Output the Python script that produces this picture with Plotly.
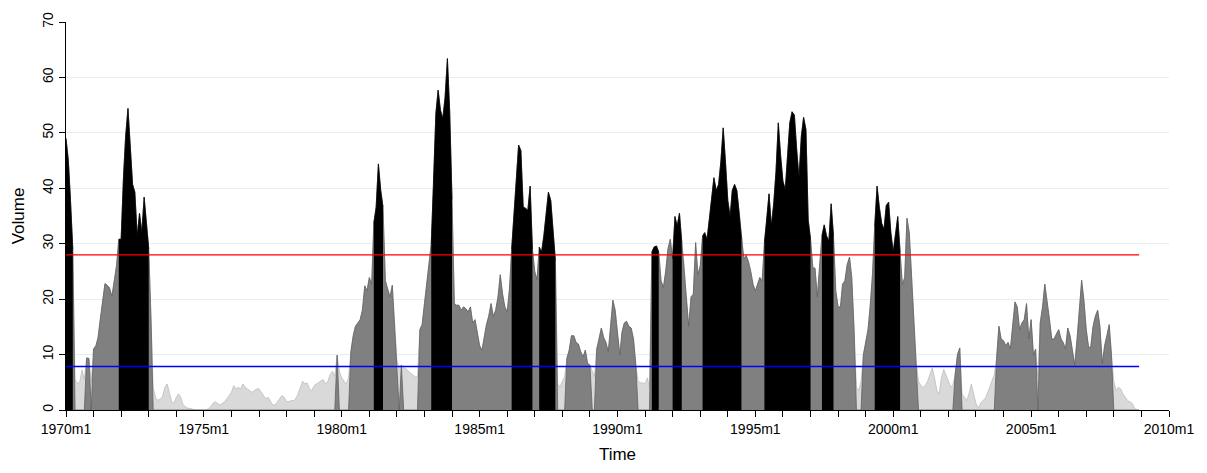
import pandas as pd
import plotly.graph_objects as go

# Monthly trading volume, 1970m1 - 2008m12, one list per decade
vol_1970s = [
    49, 45, 38, 29, 5.5, 4.8, 5.0, 7.2, 5.5, 9.4,
    9.3, 5.0, 11, 11.6, 13, 16.5, 19.5, 22.8, 22.5, 22,
    20.5, 23.5, 26, 30.8, 30.8, 41.9, 49.4, 54.4, 48.3, 40.7,
    39.3, 31.4, 35.5, 32, 38.4, 34.3, 29.1, 16, 4.0, 2.3,
    1.7, 2.0, 2.3, 4.0, 4.7, 3.2, 1.5, 1.2, 2.3, 2.9,
    2.3, 0.9, 0.6, 0.3, 0.3, 0.1, 0, 0, 0, 0,
    0, 0, 0.2, 0.6, 1.2, 1.5, 1.2, 0.9, 1.2, 1.5,
    2.0, 2.6, 3.2, 4.4, 3.8, 4.1, 3.8, 4.7, 4.1, 3.8,
    3.5, 3.2, 3.5, 3.8, 3.8, 3.2, 2.6, 2.0, 2.3, 1.7,
    0.9, 0.9, 1.5, 2.0, 2.6, 2.3, 1.5, 1.5, 1.7, 1.7,
    2.0, 2.9, 4.1, 5.2, 4.7, 4.9, 3.8, 3.5, 4.4, 4.7,
    4.9, 5.2, 5.5, 4.7, 5.2, 6.4, 7.0, 6.1, 9.9, 7.0,
]
vol_1980s = [
    5.8, 5.2, 4.7, 5.8, 10.5, 13.4, 15.1, 15.7, 16.3, 18,
    22.4, 21.5, 23.9, 22.7, 33.7, 36.6, 44.4, 39.6, 36.6, 23.3,
    22, 20.4, 22.5, 15, 9, 7.5, 8.1, 7.6, 7.5, 7.0,
    6.6, 6.3, 6.0, 6.0, 14.5, 15.4, 19.2, 23.3, 26.2, 30,
    40.7, 53.5, 57.7, 54.1, 52.6, 56.4, 63.4, 54, 38, 19.2,
    18.9, 18.9, 18, 18.6, 18.3, 17.7, 18.6, 15.7, 16.3, 14,
    11.6, 10.8, 13.4, 15.4, 16.9, 19.2, 16.9, 18, 20.4, 24.4,
    20.9, 18.6, 17.7, 22, 29, 36, 41.9, 47.8, 46.8, 36.6,
    36.4, 36, 40.4, 29, 25, 23.5, 29.4, 28.5, 31.4, 34.9,
    39.3, 37.8, 32.6, 27, 4.7, 4.1, 5.2, 6.0, 9.3, 10.8,
    13.4, 13.4, 12.2, 11.9, 10.5, 9.6, 10.8, 8.4, 8.1, 7.0,
    6.0, 11, 12.8, 14.8, 13.1, 12.2, 10.5, 15.7, 19.8, 18,
]
vol_1990s = [
    13.4, 9.9, 14, 15.7, 16, 15.1, 14.8, 12.8, 8.1, 5.2,
    4.9, 4.9, 4.7, 5.8, 4.0, 28.5, 29.4, 29.6, 28.5, 23.3,
    22.1, 25, 29.1, 30.8, 27.3, 34.9, 33.2, 35.5, 30.2, 26.2,
    20.4, 15.1, 20.4, 20.9, 30.2, 24.4, 26, 31.4, 32, 30.8,
    34.3, 38.4, 41.9, 39.6, 40.7, 44.8, 50.9, 44.8, 37.8, 34.9,
    39.6, 40.7, 39.6, 35.5, 30.8, 27.3, 27.9, 26.8, 25, 22.7,
    21.5, 22.7, 23.9, 23.3, 30.2, 34.3, 39, 33.2, 37.2, 43,
    51.8, 46, 41.3, 39.8, 44.8, 51.8, 53.8, 53.2, 47.1, 41.9,
    49.4, 52.8, 50.6, 34.3, 30.8, 25.6, 25.6, 20.4, 26, 31.4,
    33.4, 31.4, 30.5, 37.2, 31.4, 21.5, 18.6, 18.6, 22.7, 23.3,
    26.2, 27.6, 23.9, 14.5, 4.1, 3.5, 5.2, 9.9, 12.2, 14.5,
    18.6, 24.4, 33.2, 40.4, 36.6, 33.7, 32.6, 36.9, 37.5, 32,
]
vol_2000s = [
    28.5, 32, 34.9, 28.5, 22.7, 23.9, 34.6, 32, 23.9, 15.7,
    8.7, 5.2, 4.4, 4.1, 4.4, 5.2, 6.4, 7.6, 5.8, 3.5,
    2.9, 5.8, 7.3, 6.4, 5.2, 4.1, 4.5, 6.5, 10, 11.2,
    2.9, 2.3, 1.7, 2.9, 4.7, 2.9, 1.2, 0.3, 1.2, 1.7,
    2.0, 3.0, 4.1, 5.2, 6.4, 9.3, 15.1, 12.8, 12.5, 11.6,
    12.2, 11, 15.7, 19.5, 18.6, 14.5, 15.7, 16.3, 19.2, 12.8,
    16.3, 9.9, 11, 6.0, 15.7, 18.6, 22.7, 19.8, 16.3, 12.8,
    12.8, 13.7, 14.5, 12.8, 12.2, 11, 14.8, 13.4, 10.5, 8.1,
    12.8, 18.6, 23.4, 19.8, 14.5, 11.3, 11.3, 15.1, 16.9, 18,
    15.1, 8.4, 11.6, 13.4, 15.4, 9.9, 5.2, 3.5, 4.1, 3.8,
    2.9, 2.3, 1.7, 1.5, 1.2, 0.3, 0, 0,
]

# Volume regime by month as run lengths: L = low, G = medium, B = high
regime_runs = [
    ("B", 4), ("L", 5), ("G", 2), ("L", 1), ("G", 11), ("B", 14), ("G", 1),
    ("L", 80), ("G", 1), ("L", 5), ("G", 10), ("B", 5), ("G", 6), ("L", 1),
    ("G", 1), ("L", 7), ("G", 5), ("B", 10), ("G", 25), ("B", 10), ("G", 2),
    ("B", 8), ("L", 4), ("G", 11), ("L", 2), ("G", 18), ("L", 6), ("B", 4),
    ("G", 5), ("B", 5), ("G", 8), ("B", 18), ("G", 9), ("B", 21), ("G", 4),
    ("B", 6), ("G", 9), ("L", 3), ("G", 5), ("B", 12), ("G", 7), ("L", 16),
    ("G", 3), ("L", 15), ("G", 18), ("L", 1), ("G", 32), ("L", 12),
]

# Regime thresholds
high_cut = 28.0
low_cut = 7.85

# Axis labels
tick_years = [1970, 1975, 1980, 1985, 1990, 1995, 2000, 2005, 2010]
tick_text = [f"{y}m1" for y in tick_years]

volume = vol_1970s + vol_1980s + vol_1990s + vol_2000s
regime = [code for code, n in regime_runs for _ in range(n)]
assert len(volume) == len(regime) == 468

months = pd.date_range("1970-01-01", periods=len(volume), freq="MS")

mid_and_high = [v if r in ("G", "B") else 0 for v, r in zip(volume, regime)]

fig = go.Figure()

# Whole series in light grey underneath
fig.add_trace(go.Scatter(
    x=months, y=volume, mode="lines", fill="tozeroy",
    fillcolor="#d9d9d9", line=dict(color="#bdbdbd", width=0.8),
    hoverinfo="skip",
))
# Medium (and high) regime months in grey
fig.add_trace(go.Scatter(
    x=months, y=mid_and_high, mode="lines", fill="tozeroy",
    fillcolor="#808080", line=dict(color="#626262", width=0.8),
    hoverinfo="skip",
))

# High regime spells in black, one filled area per spell
start = 0
for code, n in regime_runs:
    if code == "B":
        fig.add_trace(go.Scatter(
            x=months[start:start + n], y=volume[start:start + n],
            mode="lines", fill="tozeroy", fillcolor="#000000",
            line=dict(color="#000000", width=0.6), hoverinfo="skip",
        ))
    start += n

# Threshold lines
line_x = [months[0], months[-1]]
fig.add_trace(go.Scatter(
    x=line_x, y=[high_cut, high_cut], mode="lines",
    line=dict(color="#ff0000", width=1.3), hoverinfo="skip",
))
fig.add_trace(go.Scatter(
    x=line_x, y=[low_cut, low_cut], mode="lines",
    line=dict(color="#0000ff", width=1.3), hoverinfo="skip",
))

font = dict(family="Liberation Sans, Arial, sans-serif", size=14, color="#000000")

fig.update_layout(
    width=1207, height=473,
    margin=dict(l=66, r=37, t=13, b=60),
    paper_bgcolor="#ffffff", plot_bgcolor="#ffffff",
    showlegend=False,
    font=font,
    xaxis=dict(
        range=["1970-01-01", "2010-01-01"],
        tickvals=[f"{y}-01-01" for y in tick_years],
        ticktext=tick_text,
        ticks="outside", ticklen=6, tickcolor="#000000",
        showline=True, linecolor="#000000", linewidth=1,
        showgrid=False, zeroline=False,
        minor=dict(ticks="outside", dtick="M12", tick0="1970-01-01",
                   ticklen=6, tickcolor="#000000", showgrid=False),
        title=dict(text="Time", standoff=12),
    ),
    yaxis=dict(
        range=[0, 70],
        tickvals=[0, 10, 20, 30, 40, 50, 60, 70],
        tickangle=-90,
        ticks="outside", ticklen=6, tickcolor="#000000",
        showline=True, linecolor="#000000", linewidth=1,
        showgrid=True, gridcolor="#e6eeee", gridwidth=1,
        zeroline=False,
        title=dict(text="Volume", standoff=11),
    ),
)

fig.write_html("out.html")
